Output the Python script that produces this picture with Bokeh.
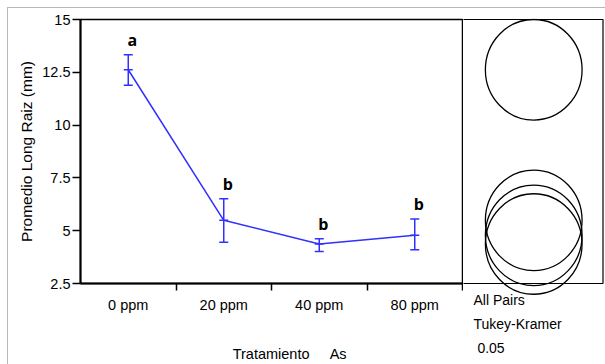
from bokeh.plotting import figure
from bokeh.layouts import row, column
from bokeh.models import (Range1d, FixedTicker, NumeralTickFormatter, Whisker, TeeHead,
                          ColumnDataSource, BoxAnnotation, Label)
from bokeh.core.properties import value
from bokeh.embed import file_html
from bokeh.resources import INLINE

# ---- data ----
treatments = ["0 ppm", "20 ppm", "40 ppm", "80 ppm"]
means = [12.62, 5.49, 4.37, 4.78]
upper = [13.33, 6.51, 4.62, 5.55]
lower = [11.89, 4.45, 4.02, 4.10]
letters = ["a", "b", "b", "b"]
circle_radius = [2.38, 2.38, 2.38, 2.38]
y_ticks = [2.5, 5, 7.5, 10, 12.5, 15]
panel_text = ["All Pairs", "Tukey-Kramer", " 0.05"]

BLUE = "#3030ff"
FONT = "Liberation Sans"
NB = "\u00a0"

n = len(treatments)
xs = [i + 0.5 for i in range(n)]
PX = 21.12            # pixels per y unit
CAT = 95.5            # pixels per category

src = ColumnDataSource(dict(x=xs, mean=means, upper=upper, lower=lower, letter=letters))

# ---------------- main plot ----------------
pa = figure(width=455, height=356, output_backend="svg", toolbar_location=None,
            x_range=Range1d(0, n), y_range=Range1d(2.5, 15),
            min_border_left=72, min_border_right=1, min_border_top=11, min_border_bottom=81)
pa.outline_line_color = "black"
pa.outline_line_width = 1.5
pa.xgrid.visible = False
pa.ygrid.visible = False

ya = pa.yaxis[0]
ya.ticker = FixedTicker(ticks=y_ticks)
ya.formatter = NumeralTickFormatter(format="0.[0]")
ya.axis_line_width = 2
ya.axis_line_color = "black"
ya.major_tick_out = 8
ya.major_tick_in = 0
ya.major_tick_line_width = 1.5
ya.minor_tick_line_color = None
ya.major_label_standoff = 2
ya.major_label_text_font = FONT
ya.major_label_text_font_size = "14.5px"
ya.major_label_text_color = "black"
ya.axis_label = "Promedio Long Raiz (mm)"
ya.axis_label_text_font = FONT
ya.axis_label_text_font_size = "15.5px"
ya.axis_label_text_font_style = "normal"
ya.axis_label_text_color = "black"
ya.axis_label_standoff = 4

xa = pa.xaxis[0]
xa.ticker = FixedTicker(ticks=xs, minor_ticks=[i + 1 for i in range(n)])
xa.major_label_overrides = {x: t for x, t in zip(xs, treatments)}
xa.axis_line_width = 2
xa.axis_line_color = "black"
xa.major_tick_line_color = None
xa.major_tick_out = 7
xa.major_tick_in = 0
xa.minor_tick_out = 7
xa.minor_tick_in = 0
xa.minor_tick_line_color = "black"
xa.minor_tick_line_width = 1.5
xa.major_label_standoff = 6
xa.major_label_text_font = FONT
xa.major_label_text_font_size = "14.5px"
xa.major_label_text_color = "black"
xa.axis_label = NB * 9 + "Tratamiento" + NB * 5 + "As"
xa.axis_label_text_font = FONT
xa.axis_label_text_font_size = "14.5px"
xa.axis_label_text_font_style = "normal"
xa.axis_label_text_color = "black"
xa.axis_label_standoff = 30

pa.line("x", "mean", source=src, line_color=BLUE, line_width=1.5)
pa.add_layout(Whisker(base="x", upper="upper", lower="lower", source=src, dimension="height",
                      line_color=BLUE, line_width=1.5,
                      upper_head=TeeHead(size=9, line_color=BLUE, line_width=1.5),
                      lower_head=TeeHead(size=9, line_color=BLUE, line_width=1.5)))
pa.scatter("x", "mean", source=src, marker="dash", size=9, line_color=BLUE, line_width=1.5)
pa.text("x", "upper", text="letter", source=src, text_font=value("Open Sans"),
        text_font_style="bold", text_font_size="16px", text_color="black",
        text_align="center", text_baseline="middle", x_offset=4, y_offset=-15)

# ---------------- comparison circles panel ----------------
frame_h = 364 - 8 - 10
y_top = 15 + 1 / PX
pw = 141 / CAT
pb = figure(width=142, height=356, output_backend="svg", toolbar_location=None,
            x_range=Range1d(0, pw), y_range=Range1d(y_top - frame_h / PX, y_top),
            min_border_left=0, min_border_right=1, min_border_top=10, min_border_bottom=0)
pb.outline_line_color = None
pb.axis.visible = False
pb.xgrid.visible = False
pb.ygrid.visible = False
box_r = 139.5 / CAT
pb.add_layout(BoxAnnotation(left=-0.1, right=box_r, bottom=2.5, top=15, fill_alpha=0,
                            line_color="black", line_width=1.2, line_alpha=1))
pb.ellipse(x=[box_r / 2 + 0.005] * n, y=means, width=96.7 / CAT,
           height=[2 * r for r in circle_radius], fill_color=None,
           line_color="black", line_width=1.3)
for i, t in enumerate(panel_text):
    pb.add_layout(Label(x=10 / CAT, y=1.70 - i * 1.12, text=t.replace(" ", NB), text_font=FONT,
                        text_font_size="14px", text_align="left", text_baseline="middle",
                        text_color="black"))

layout = row(pa, column(pb, spacing=0), spacing=0,
             styles={"margin": "7px 0 0 7px", "border-top": "1px solid #b8b8b8",
                     "border-left": "1px solid #b8b8b8"})

open("out.html", "w").write(file_html(layout, INLINE))
